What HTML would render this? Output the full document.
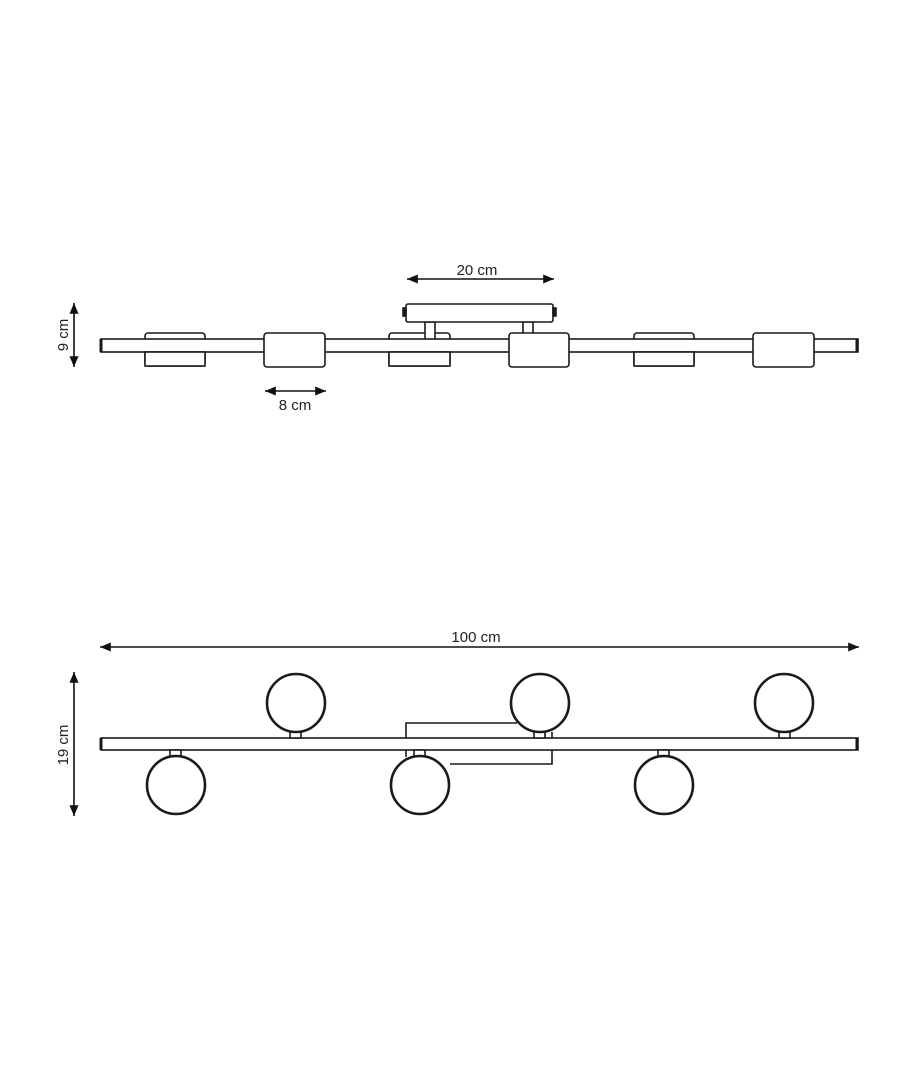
<!DOCTYPE html>
<html><head><meta charset="utf-8"><style>
html,body{margin:0;padding:0;background:#fff}
svg{display:block}
text{font-family:"Liberation Sans",sans-serif;font-size:15px;fill:#222}
</style></head><body>
<svg width="910" height="1080" viewBox="0 0 910 1080" xmlns="http://www.w3.org/2000/svg">
<defs>
<marker id="a" viewBox="0 0 12 10" refX="12" refY="5" markerWidth="13" markerHeight="9" orient="auto-start-reverse" markerUnits="userSpaceOnUse"><path d="M0,0 L12,5 L0,10 z" fill="#111"/></marker>
</defs>
<g stroke="#1a1a1a" stroke-width="1.6" fill="#fff">
<rect x="145" y="333" width="60" height="33" rx="3"/>
<rect x="389" y="333" width="61" height="33" rx="3"/>
<rect x="634" y="333" width="60" height="33" rx="3"/>
<rect x="425" y="322" width="10" height="18"/>
<rect x="523" y="322" width="10" height="12"/>
<rect x="101" y="339" width="757" height="13"/>
<line x1="101" y1="339" x2="101" y2="352" stroke-width="3"/>
<line x1="857" y1="339" x2="857" y2="352" stroke-width="3"/>
<rect x="145" y="352" width="60" height="14" />
<rect x="389" y="352" width="61" height="14" />
<rect x="634" y="352" width="60" height="14" />
<rect x="264" y="333" width="61" height="34" rx="3"/>
<rect x="509" y="333" width="60" height="34" rx="3"/>
<rect x="753" y="333" width="61" height="34" rx="3"/>
<rect x="406" y="304" width="147" height="18" rx="2"/>
<rect x="403" y="308" width="3" height="8" fill="#1a1a1a"/>
<rect x="553" y="308" width="3" height="8" fill="#1a1a1a"/>
</g>
<g stroke="#111" stroke-width="1.6" fill="none">
<line x1="407" y1="279" x2="554" y2="279" marker-start="url(#a)" marker-end="url(#a)"/>
<line x1="265" y1="391" x2="326" y2="391" marker-start="url(#a)" marker-end="url(#a)"/>
<line x1="74" y1="303" x2="74" y2="367" marker-start="url(#a)" marker-end="url(#a)"/>
<line x1="100" y1="647" x2="859" y2="647" marker-start="url(#a)" marker-end="url(#a)"/>
<line x1="74" y1="672" x2="74" y2="816" marker-start="url(#a)" marker-end="url(#a)"/>
</g>
<text x="477" y="275" text-anchor="middle">20 cm</text>
<text x="295" y="410" text-anchor="middle">8 cm</text>
<text transform="translate(68,335) rotate(-90)" text-anchor="middle">9 cm</text>
<text x="476" y="642" text-anchor="middle">100 cm</text>
<text transform="translate(68,745) rotate(-90)" text-anchor="middle">19 cm</text>
<g stroke="#1a1a1a" stroke-width="1.6" fill="none">
<polyline points="406,738 406,723 517,723"/>
<polyline points="450,764 552,764 552,750"/>
<rect x="101" y="738" width="757" height="12" fill="#fff"/>
<line x1="101" y1="738" x2="101" y2="750" stroke-width="3"/>
<line x1="857" y1="738" x2="857" y2="750" stroke-width="3"/>
<line x1="406" y1="750" x2="406" y2="757"/>
<line x1="545" y1="732" x2="545" y2="738"/>
<line x1="552" y1="732" x2="552" y2="738"/>
<rect x="290" y="731" width="11" height="7" fill="#fff"/>
<rect x="534" y="731" width="11" height="7" fill="#fff"/>
<rect x="779" y="731" width="11" height="7" fill="#fff"/>
<rect x="170" y="750" width="11" height="7" fill="#fff"/>
<rect x="414" y="750" width="11" height="7" fill="#fff"/>
<rect x="658" y="750" width="11" height="7" fill="#fff"/>
</g>
<g stroke="#1a1a1a" stroke-width="2.6" fill="#fff">
<circle cx="296" cy="703" r="29"/>
<circle cx="540" cy="703" r="29"/>
<circle cx="784" cy="703" r="29"/>
<circle cx="176" cy="785" r="29"/>
<circle cx="420" cy="785" r="29"/>
<circle cx="664" cy="785" r="29"/>
</g>
</svg>
</body></html>
